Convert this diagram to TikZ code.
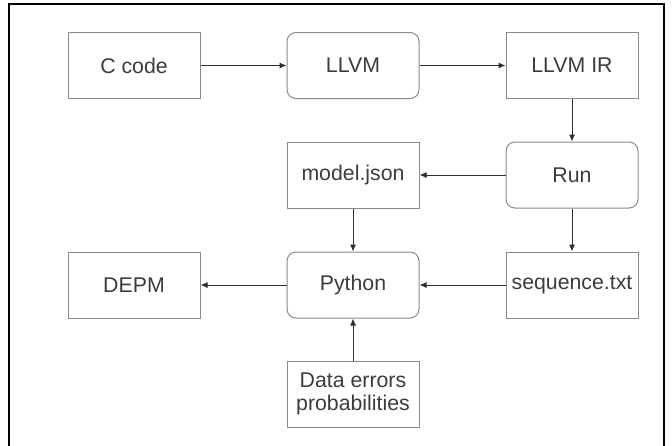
\documentclass[tikz,border=0pt]{standalone}
\usepackage{fontspec}
\setmainfont{Liberation Sans}
\usetikzlibrary{arrows.meta}
\definecolor{boxline}{HTML}{8A8A8A}
\definecolor{txt}{HTML}{3C3C3C}
\definecolor{arr}{HTML}{2E2E2E}
\begin{document}
\begin{tikzpicture}[x=1pt,y=-1pt,
  box/.style={draw=boxline,line width=1pt,minimum width=132pt,minimum height=66pt,inner sep=0pt,text=txt,font=\fontsize{21.3}{24}\selectfont,align=center},
  rbox/.style={box,rounded corners=9pt},
  conn/.style={draw=arr,line width=1pt,-{Latex[length=7pt,width=6pt]}}]
\useasboundingbox (0,0) rectangle (672,445);
\fill[white] (0,0) rectangle (672,445);
\draw[line width=2pt] (9,450) -- (9,4) -- (664,4) -- (664,450);
\node[box]  (c)    at (134,65.5) {C code};
\node[rbox] (llvm) at (353,65.5) {LLVM};
\node[box]  (ir)   at (572,65.5) {LLVM IR};
\node[box]  (model) at (353,175) {model.json};
\node[rbox] (run)  at (572,175) {Run};
\node[box]  (depm) at (134,285) {DEPM};
\node[rbox] (py)   at (353,285) {Python};
\node[box]  (seq)  at (572,285) {sequence.txt};
\node[box]  (data) at (353,394) {Data errors\\[-1pt]probabilities};
\draw[conn] (c) -- (llvm);
\draw[conn] (llvm) -- (ir);
\draw[conn] (ir) -- (run);
\draw[conn] (run) -- (model);
\draw[conn] (run) -- (seq);
\draw[conn] (model) -- (py);
\draw[conn] (seq) -- (py);
\draw[conn] (py) -- (depm);
\draw[conn] (data) -- (py);
\end{tikzpicture}
\end{document}
